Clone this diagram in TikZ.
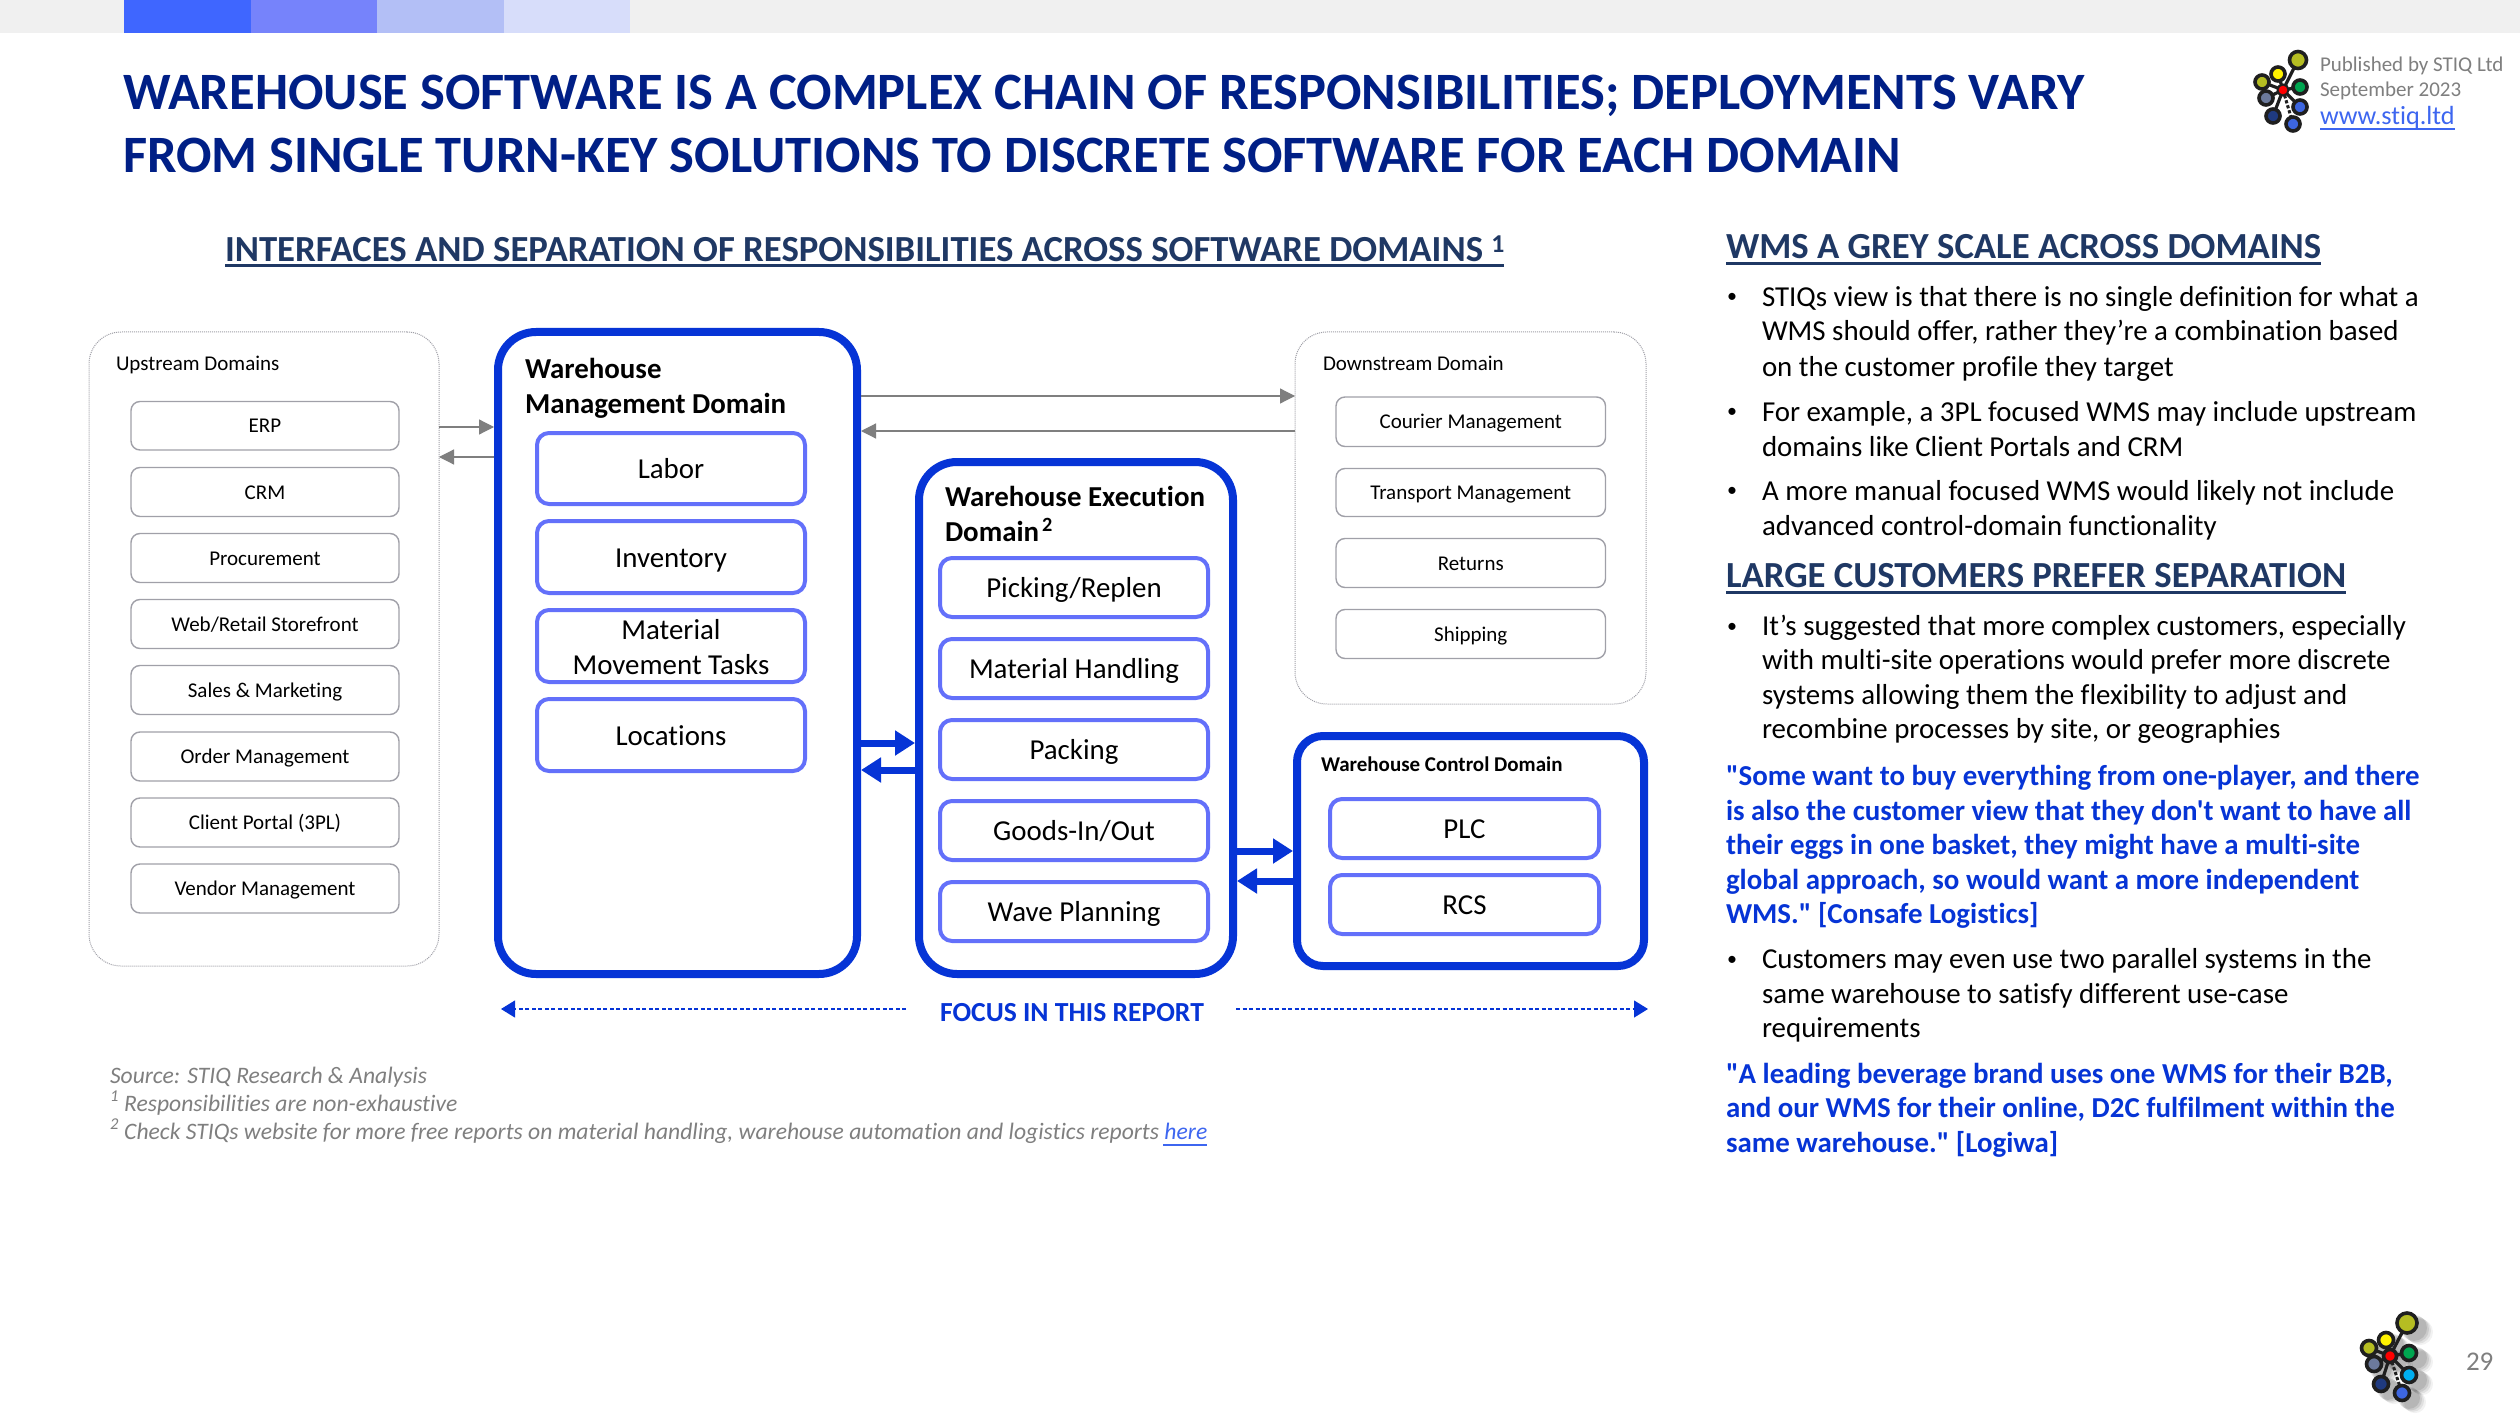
\documentclass[tikz,border=0pt]{standalone}
\usepackage{fontspec}
\setmainfont{Carlito}[Ligatures={TeXOff,NoCommon}]
\usetikzlibrary{arrows.meta}
\definecolor{navy}{HTML}{001F86}
\definecolor{headc}{HTML}{1F3864}
\definecolor{bluec}{HTML}{0634D6}
\definecolor{innerc}{HTML}{6370FA}
\definecolor{greyt}{HTML}{7F7F7F}
\definecolor{boxg}{HTML}{A0A0A8}
\definecolor{linkc}{HTML}{3D66F0}
\definecolor{barA}{HTML}{3F66FF}
\definecolor{barB}{HTML}{7683FB}
\definecolor{barC}{HTML}{B3BFF6}
\definecolor{barD}{HTML}{D7DDFA}
\definecolor{logoOl}{HTML}{B5BD22}
\definecolor{logoYe}{HTML}{FFF200}
\definecolor{logoGr}{HTML}{00A650}
\definecolor{logoRe}{HTML}{FF0000}
\definecolor{logoBl}{HTML}{3D66E0}
\definecolor{logoNa}{HTML}{1F3A80}
\definecolor{logoSl}{HTML}{6C7A9C}
\definecolor{logoCy}{HTML}{00AEEF}
\newcommand{\fs}[1]{\fontsize{#1}{#1}\selectfont}
\tikzset{
 x=1pt,y=-1pt,
 txt/.style={inner sep=0pt,outer sep=0pt,anchor=base west,font=\fs{28.9},text=black},
 quotetxt/.style={txt,font=\bfseries\fs{28.9},text=bluec},
 headtxt/.style={txt,font=\bfseries\fs{36.75},text=headc},
 titletxt/.style={txt,font=\bfseries\fs{52.5},text=navy},
 foot/.style={txt,font=\itshape\fs{23.6},text=greyt},
 bullet/.style={txt,font=\fs{20}},
 ctxt/.style={inner sep=0pt,outer sep=0pt,align=center},
 domainbox/.style={draw=boxg,densely dotted,line width=1pt,rounded corners=32pt},
 greybox/.style={draw=boxg,line width=1.4pt,rounded corners=9pt,fill=white,font=\fs{21},text=black,text height=14pt,text depth=0pt},
 outerbox/.style={draw=bluec,line width=8pt,rounded corners=38pt,fill=white,outer sep=4pt,xshift=-4pt,yshift=4pt},
 wcsbox/.style={draw=bluec,line width=8pt,rounded corners=26pt,fill=white,outer sep=4pt,xshift=-4pt,yshift=4pt},
 innerbox/.style={draw=innerc,line width=4pt,rounded corners=12pt,fill=white,font=\fontsize{28.9}{35}\selectfont},
 innerone/.style={innerbox,text height=20pt,text depth=0pt},
 greyarrow/.style={draw=greyt,line width=1.2pt,-{Triangle[length=15pt,width=15pt]}},
 bluearrow/.style={draw=bluec,line width=7pt,-{Triangle[length=20pt,width=24pt]}},
 dasharrow/.style={draw=bluec,line width=1.2pt,dash pattern=on 4pt off 2.5pt,-{Triangle[length=14pt,width=17pt]}},
 underl/.style={line width=#1},
 logonode/.style={circle,draw=black!88,line width=3.6pt,minimum size=#1,inner sep=0pt,outer sep=0pt},
 logolink/.style={draw=black!88,line width=3.2pt},
}
\newcommand{\bx}[7]{\node[ctxt,#6,minimum width=#4pt-#2pt,minimum height=#5pt-#3pt,anchor=north west] (#1) at (#2,#3) {#7};}
\newcommand{\tl}[5][txt]{\node[#1] (#2) at (#3,#4) {#5};}
\begin{document}
\begin{tikzpicture}
\useasboundingbox (0,0) rectangle (2520,1415);
\fill[white] (0,0) rectangle (2520,1415);
% top band
\fill[black!6] (0,0) rectangle (2520,33);
\fill[barA] (124,0) rectangle (251,33);
\fill[barB] (251,0) rectangle (377,33);
\fill[barC] (377,0) rectangle (504,33);
\fill[barD] (504,0) rectangle (630,33);
% title
\tl[titletxt]{t1}{123}{109.5}{WAREHOUSE SOFTWARE IS A COMPLEX CHAIN OF RESPONSIBILITIES; DEPLOYMENTS VARY}
\tl[titletxt]{t2}{123}{172.5}{FROM SINGLE TURN-KEY SOLUTIONS TO DISCRETE SOFTWARE FOR EACH DOMAIN}
\tl[headtxt]{sub}{225}{261.5}{INTERFACES AND SEPARATION OF RESPONSIBILITIES ACROSS SOFTWARE DOMAINS \textsuperscript{1}}
\draw[headc,underl=2.5pt] (225,265.5) -- (1504,265.5);
% publisher
\tl[txt,font=\fs{21},text=greyt]{pub1}{2320}{72}{Published by STIQ Ltd}
\tl[txt,font=\fs{21},text=greyt]{pub2}{2320}{97}{September 2023}
\tl[txt,font=\fs{26.2},text=linkc]{pub3}{2320}{125}{www.stiq.ltd}
\draw[linkc,underl=2pt] (pub3.base west |- 0,129) -- (2455,129);
% logo top
\node[logonode=17pt,fill=logoOl] (la1) at (2298,60) {};
\node[logonode=14pt,fill=logoYe] (la2) at (2278,74) {};
\node[logonode=14pt,fill=logoOl] (la3) at (2262,82) {};
\node[logonode=14pt,fill=logoSl] (la4) at (2266,98) {};
\node[logonode=14pt,fill=logoNa] (la5) at (2273,116) {};
\node[logonode=14pt,fill=logoBl] (la6) at (2293,124) {};
\node[logonode=14pt,fill=logoBl] (la7) at (2300,107) {};
\node[logonode=14pt,fill=logoGr] (la8) at (2300,87) {};
\node[circle,fill=logoRe,draw=black!88,line width=2pt,minimum size=11pt,inner sep=0pt,outer sep=0pt] (la0) at (2283,90) {};
\foreach \n in {1,2,3,4,5,7,8} \draw[logolink] (la0) -- (la\n);
\draw[logolink,dotted,line width=3pt] (la0) -- (la6);
% logo bottom
\foreach \dx/\op in {13/0.05,11/0.07,9/0.09,7/0.1}{
 \foreach \px/\py/\r in {2407/1323/11,2386/1340/9,2369/1348/9,2374/1364/9,2381/1384/9,2402/1393/9,2409/1375/9,2409/1353/9,2390/1356/8}
  \fill[black,opacity=\op] (\px+\dx,\py+\dx*0.7) circle (\r+2);
}
\node[logonode=20pt,fill=logoOl] (lb1) at (2407,1323) {};
\node[logonode=15pt,fill=logoYe] (lb2) at (2386,1340) {};
\node[logonode=15pt,fill=logoOl] (lb3) at (2369,1348) {};
\node[logonode=15pt,fill=logoSl] (lb4) at (2374,1364) {};
\node[logonode=15pt,fill=logoNa] (lb5) at (2381,1384) {};
\node[logonode=15pt,fill=logoBl] (lb6) at (2402,1393) {};
\node[logonode=15pt,fill=logoCy] (lb7) at (2409,1375) {};
\node[logonode=15pt,fill=logoGr] (lb8) at (2409,1353) {};
\node[logonode=13pt,fill=logoRe] (lb0) at (2390,1356) {};
\foreach \n in {1,2,3,4,5,7,8} \draw[logolink] (lb0) -- (lb\n);
\draw[logolink,dotted,line width=3pt] (lb0) -- (lb6);
\tl[txt,font=\fs{27},text=greyt]{pg}{2466}{1370}{29}
% upstream
\bx{up}{89}{332}{439}{966}{domainbox}{}
\tl[txt,font=\fs{21},text=black]{upt}{116}{370.5}{Upstream Domains}
\bx{u1}{131}{401.5}{399}{450}{greybox}{ERP}
\bx{u2}{131}{467.5}{399}{516.5}{greybox}{CRM}
\bx{u3}{131}{533.5}{399}{582.5}{greybox}{Procurement}
\bx{u4}{131}{599.5}{399}{648.5}{greybox}{Web/Retail Storefront}
\bx{u5}{131}{665.5}{399}{714.5}{greybox}{Sales \& Marketing}
\bx{u6}{131}{732}{399}{781}{greybox}{Order Management}
\bx{u7}{131}{798}{399}{847}{greybox}{Client Portal (3PL)}
\bx{u8}{131}{864}{399}{913}{greybox}{Vendor Management}
% downstream
\bx{dn}{1295}{332}{1646}{704}{domainbox}{}
\tl[txt,font=\fs{21},text=black]{dnt}{1323}{370.5}{Downstream Domain}
\bx{d1}{1336}{397}{1605.5}{446.5}{greybox}{Courier Management}
\bx{d2}{1336}{468.5}{1605.5}{516.5}{greybox}{Transport Management}
\bx{d3}{1336}{538.5}{1605.5}{587.5}{greybox}{Returns}
\bx{d4}{1336}{609.5}{1605.5}{658.5}{greybox}{Shipping}
% WMS
\bx{wms}{498}{332}{857}{974}{outerbox}{}
\tl[txt,font=\bfseries\fs{28.9}]{wmst1}{525}{378}{Warehouse}
\tl[txt,font=\bfseries\fs{28.9}]{wmst2}{525}{413}{Management Domain}
\bx{m1}{537}{433}{805}{504}{innerone}{Labor}
\bx{m2}{537}{521}{805}{593}{innerone}{Inventory}
\bx{m3}{537}{610}{805}{682}{innerbox}{\rule{0pt}{22pt}Material\\Movement Tasks}
\bx{m4}{537}{699}{805}{771}{innerone}{Locations}
% WES
\bx{wes}{919}{462}{1233}{974}{outerbox}{}
\tl[txt,font=\bfseries\fs{28.9}]{west1}{945}{506}{Warehouse Execution}
\tl[txt,font=\bfseries\fs{28.9}]{west2}{945}{541}{Domain\hspace{3pt}\textsuperscript{2}}
\bx{e1}{940}{558}{1208}{617}{innerone}{Picking/Replen}
\bx{e2}{940}{639}{1208}{698}{innerone}{Material Handling}
\bx{e3}{940}{720}{1208}{779}{innerone}{Packing}
\bx{e4}{940}{801}{1208}{860}{innerone}{Goods-In/Out}
\bx{e5}{940}{882}{1208}{941}{innerone}{Wave Planning}
% WCS
\bx{wcs}{1297}{736}{1644}{966}{wcsbox}{}
\tl[txt,font=\bfseries\fs{21}]{wcst}{1321}{771}{Warehouse Control Domain}
\bx{c1}{1330}{799}{1599}{858}{innerone}{PLC}
\bx{c2}{1330}{875}{1599}{934}{innerone}{RCS}
% connectors
\draw[greyarrow] (up.east |- 0,427) -- (wms.west |- 0,427);
\draw[greyarrow] (wms.west |- 0,457) -- (up.east |- 0,457);
\draw[greyarrow] (wms.east |- 0,396) -- (dn.west |- 0,396);
\draw[greyarrow] (dn.west |- 0,431) -- (wms.east |- 0,431);
\draw[bluearrow] (wms.east |- 0,743) -- (wes.west |- 0,743);
\draw[bluearrow] (wes.west |- 0,770) -- (wms.east |- 0,770);
\draw[bluearrow] (wes.east |- 0,851) -- (wcs.west |- 0,851);
\draw[bluearrow] (wcs.west |- 0,881) -- (wes.east |- 0,881);
% focus
\node[ctxt,font=\bfseries\fs{27.6},text=bluec,anchor=base] (focus) at (1072,1021) {FOCUS IN THIS REPORT};
\coordinate (fl1) at (906,1009);
\coordinate (fl2) at (501,1009);
\coordinate (fr1) at (1236,1009);
\coordinate (fr2) at (1648,1009);
\draw[dasharrow] (fl1) -- (fl2);
\draw[dasharrow] (fr1) -- (fr2);
% footnotes
\tl[foot]{f1}{110}{1083}{Source: STIQ Research \& Analysis}
\tl[foot]{f2}{110}{1111}{\textsuperscript{1} Responsibilities are non-exhaustive}
\tl[foot]{f3}{110}{1139}{\textsuperscript{2} Check STIQs website for more free reports on material handling, warehouse automation and logistics reports \textcolor{linkc}{here}}
\draw[linkc,underl=2pt] (1163,1144.5) -- (f3.base east |- 0,1144.5);
% right column
\tl[headtxt]{h1}{1726}{258.5}{WMS A GREY SCALE ACROSS DOMAINS}
\draw[headc,underl=2.5pt] (h1.base west |- 0,263.5) -- (h1.base east |- 0,263.5);
\tl[bullet]{b1}{1727}{306}{\raisebox{3pt}{•}}
\tl{l1}{1762}{307}{STIQs view is that there is no single definition for what a}
\tl{l2}{1762}{341}{WMS should offer, rather they’re a combination based}
\tl{l3}{1762}{376}{on the customer profile they target}
\tl[bullet]{b2}{1727}{420}{\raisebox{3pt}{•}}
\tl{l4}{1762}{421}{For example, a 3PL focused WMS may include upstream}
\tl{l5}{1762}{456}{domains like Client Portals and CRM}
\tl[bullet]{b3}{1727}{499}{\raisebox{3pt}{•}}
\tl{l6}{1762}{500}{A more manual focused WMS would likely not include}
\tl{l7}{1762}{535}{advanced control-domain functionality}
\tl[headtxt]{h2}{1726}{587.5}{LARGE CUSTOMERS PREFER SEPARATION}
\draw[headc,underl=2.5pt] (h2.base west |- 0,592.5) -- (h2.base east |- 0,592.5);
\tl[bullet]{b4}{1727}{635}{\raisebox{3pt}{•}}
\tl{l8}{1762}{635}{It’s suggested that more complex customers, especially}
\tl{l9}{1762}{669}{with multi-site operations would prefer more discrete}
\tl{l10}{1762}{704}{systems allowing them the flexibility to adjust and}
\tl{l11}{1762}{738}{recombine processes by site, or geographies}
\tl[quotetxt]{q1}{1726}{785}{"Some want to buy everything from one-player, and there}
\tl[quotetxt]{q2}{1726}{820}{is also the customer view that they don't want to have all}
\tl[quotetxt]{q3}{1726}{854}{their eggs in one basket, they might have a multi-site}
\tl[quotetxt]{q4}{1726}{889}{global approach, so would want a more independent}
\tl[quotetxt]{q5}{1726}{923}{WMS." [Consafe Logistics]}
\tl[bullet]{b5}{1727}{968}{\raisebox{3pt}{•}}
\tl{l12}{1762}{968}{Customers may even use two parallel systems in the}
\tl{l13}{1762}{1003}{same warehouse to satisfy different use-case}
\tl{l14}{1762}{1037}{requirements}
\tl[quotetxt]{q6}{1726}{1083}{"A leading beverage brand uses one WMS for their B2B,}
\tl[quotetxt]{q7}{1726}{1117}{and our WMS for their online, D2C fulfilment within the}
\tl[quotetxt]{q8}{1726}{1152}{same warehouse." [Logiwa]}
\end{tikzpicture}
\end{document}
